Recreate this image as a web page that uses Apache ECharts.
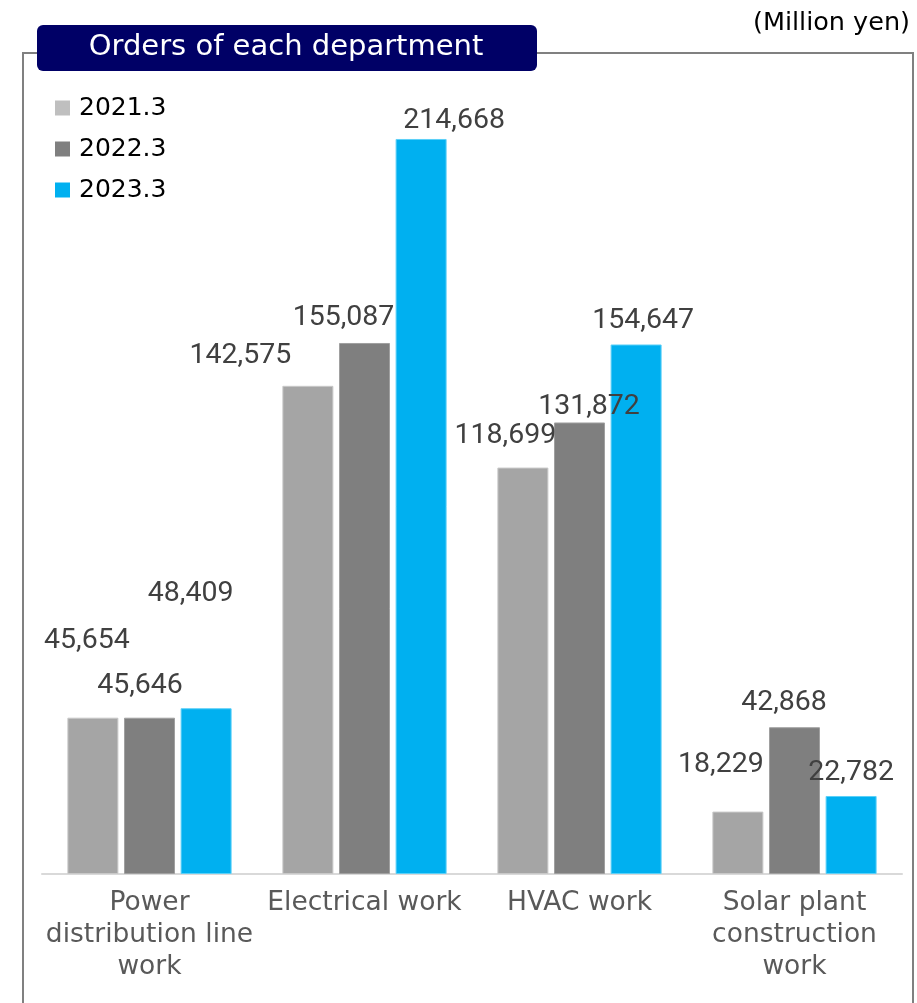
<!DOCTYPE html>
<html>
<head>
<meta charset="utf-8">
<style>
  html, body { margin: 0; padding: 0; background: #ffffff; }
  #chart { width: 917px; height: 1003px; }
</style>
<script src="https://cdn.jsdelivr.net/npm/echarts@6/dist/echarts.min.js"></script>
</head>
<body>
<div id="chart"></div>
<script>
// Departments (axis labels, line breaks as printed)
const categories = [
  'Power\ndistribution line\nwork',
  'Electrical work',
  'HVAC work',
  'Solar plant\nconstruction\nwork'
];

// Orders per fiscal year, million yen
const fy2021 = [45654, 142575, 118699, 18229];
const fy2022 = [45646, 155087, 131872, 42868];
const fy2023 = [48409, 214668, 154647, 22782];

const seriesNames = ['2021.3', '2022.3', '2023.3'];

// Label placement relative to each bar top: [dx, pixels above]
const labelShift = [
  [[-6, 77], [-67.5, 30], [-17.5, 31.5], [-17, 47]],
  [[-9.5, 32], [-21, 25], [9.5, 15.5], [-10.5, 24]],
  [[-15.5, 114], [33, 18], [7, 24], [0, 23.5]]
];

const barColors = ['#a5a5a5', '#7f7f7f', '#00b0f0'];
const barEdges = ['#c8c8c8', '#a0a0a0', '#5cd0f8'];
const legendColors = ['#bfbfbf', '#7f7f7f', '#00b0f0'];

const valueFont = 'Roboto, "Liberation Sans", sans-serif';
const textFont = '"DejaVu Sans", Verdana, sans-serif';

function makeSeries(idx, values) {
  return {
    name: seriesNames[idx],
    type: 'bar',
    barWidth: 51,
    barGap: '11%',
    itemStyle: { color: barColors[idx], borderColor: barEdges[idx], borderWidth: 1 },
    data: values.map((v, i) => ({
      value: v,
      label: {
        offset: [labelShift[idx][i][0], -labelShift[idx][i][1]]
      }
    })),
    label: {
      show: true,
      position: 'top',
      distance: 0,
      verticalAlign: 'middle',
      color: '#404040',
      fontFamily: valueFont,
      fontSize: 28.5,
      formatter: p => p.value.toLocaleString('en-US')
    },
    emphasis: { disabled: true }
  };
}

const chart = echarts.init(document.getElementById('chart'), null, { renderer: 'canvas' });

chart.setOption({
  animation: false,
  backgroundColor: '#ffffff',
  graphic: [
    {
      type: 'rect',
      shape: { x: 23, y: 53, width: 890, height: 1000 },
      style: { fill: 'none', stroke: '#808080', lineWidth: 2 },
      z: 0
    },
    {
      type: 'rect',
      shape: { x: 37, y: 25, width: 500, height: 46, r: 6 },
      style: { fill: '#000066' },
      z: 10
    },
    {
      type: 'text',
      x: 286, y: 47,
      style: {
        text: 'Orders of each department',
        fill: '#ffffff',
        font: '29px ' + textFont,
        align: 'center',
        verticalAlign: 'middle'
      },
      z: 11
    },
    {
      type: 'text',
      x: 910, y: 23,
      style: {
        text: '(Million yen)',
        fill: '#000000',
        font: '25.5px ' + textFont,
        align: 'right',
        verticalAlign: 'middle'
      },
      z: 11
    }
  ],
  legend: {
    orient: 'vertical',
    left: 55,
    top: 95,
    padding: 0,
    itemWidth: 15,
    itemHeight: 15,
    itemGap: 15,
    selectedMode: false,
    icon: 'rect',
    textStyle: {
      color: '#000000',
      fontFamily: textFont,
      fontSize: 25,
      lineHeight: 26,
      padding: [0, 0, 0, 4]
    },
    data: seriesNames.map((n, i) => ({ name: n, itemStyle: { color: legendColors[i], borderWidth: 0 } }))
  },
  grid: {
    left: 42,
    right: 15,
    top: 18,
    bottom: 129,
    containLabel: false
  },
  xAxis: {
    type: 'category',
    data: categories,
    axisLine: { show: true, lineStyle: { color: '#d9d9d9', width: 2 } },
    axisTick: { show: false },
    axisLabel: {
      interval: 0,
      margin: 13,
      color: '#595959',
      fontFamily: textFont,
      fontSize: 26.5,
      lineHeight: 32
    }
  },
  yAxis: {
    type: 'value',
    min: 0,
    max: 250000,
    show: false,
    splitLine: { show: false }
  },
  series: [
    makeSeries(0, fy2021),
    makeSeries(1, fy2022),
    makeSeries(2, fy2023)
  ]
});
</script>
</body>
</html>
